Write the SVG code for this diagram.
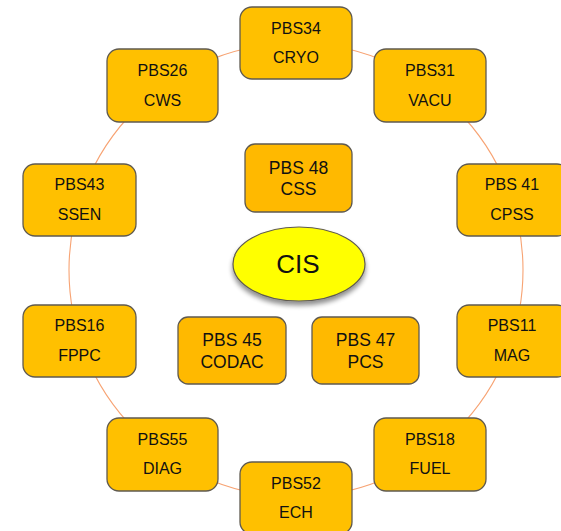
<svg xmlns="http://www.w3.org/2000/svg" width="561" height="531" viewBox="0 0 561 531">
<style>
.ob{fill:#FFC000;stroke:#5F5A50;stroke-width:1.3}
.ib{fill:#FFB900;stroke:#5F5A50;stroke-width:1.3}
.ot{font-family:"Liberation Sans",Arial,sans-serif;font-size:16px;fill:#111;text-anchor:middle}
.it{font-family:"Liberation Sans",Arial,sans-serif;font-size:17.5px;fill:#111;text-anchor:middle}
.ring{fill:none;stroke:#F7A373;stroke-width:1.1}
</style>
<defs>
<filter id="sh" x="-20%" y="-20%" width="140%" height="160%">
<feGaussianBlur in="SourceAlpha" stdDeviation="2.5"/>
<feOffset dx="0" dy="4" result="b"/>
<feComponentTransfer><feFuncA type="linear" slope="0.45"/></feComponentTransfer>
<feMerge><feMergeNode/><feMergeNode in="SourceGraphic"/></feMerge>
</filter>
</defs>
<rect width="561" height="531" fill="#fff"/>
<g id="connectors">
<circle class="ring" cx="296" cy="270" r="227"/>
</g>
<g id="cryo"><rect class="ob" x="240" y="7" width="112" height="72" rx="12"/><text class="ot" x="296" y="33.5">PBS34</text><text class="ot" x="296" y="62.5">CRYO</text></g>
<g id="cws"><rect class="ob" x="107" y="49" width="111" height="73" rx="12"/><text class="ot" x="162.5" y="76">PBS26</text><text class="ot" x="162.5" y="105.5">CWS</text></g>
<g id="vacu"><rect class="ob" x="374" y="49" width="112" height="73" rx="12"/><text class="ot" x="430" y="76">PBS31</text><text class="ot" x="430" y="105.5">VACU</text></g>
<g id="ssen"><rect class="ob" x="23" y="164" width="113" height="72" rx="12"/><text class="ot" x="79.5" y="190">PBS43</text><text class="ot" x="79.5" y="219.5">SSEN</text></g>
<g id="cpss"><rect class="ob" x="457" y="164" width="112" height="72" rx="12"/><text class="ot" x="512" y="190">PBS 41</text><text class="ot" x="512" y="219.5">CPSS</text></g>
<g id="fppc"><rect class="ob" x="23" y="305" width="113" height="72" rx="12"/><text class="ot" x="79.5" y="331">PBS16</text><text class="ot" x="79.5" y="360.5">FPPC</text></g>
<g id="mag"><rect class="ob" x="457" y="305" width="112" height="72" rx="12"/><text class="ot" x="512" y="331">PBS11</text><text class="ot" x="512" y="360.5">MAG</text></g>
<g id="diag"><rect class="ob" x="107" y="418" width="111" height="73" rx="12"/><text class="ot" x="162.5" y="444.5">PBS55</text><text class="ot" x="162.5" y="474">DIAG</text></g>
<g id="fuel"><rect class="ob" x="374" y="418" width="112" height="73" rx="12"/><text class="ot" x="430" y="444.5">PBS18</text><text class="ot" x="430" y="474">FUEL</text></g>
<g id="ech"><rect class="ob" x="240" y="462" width="112" height="72" rx="12"/><text class="ot" x="296" y="488.5">PBS52</text><text class="ot" x="296" y="518">ECH</text></g>
<g id="css"><rect class="ib" x="245" y="144" width="107" height="68" rx="10"/><text class="it" x="298.5" y="174">PBS 48</text><text class="it" x="298.5" y="195">CSS</text></g>
<g id="cis"><ellipse cx="299" cy="264" rx="66" ry="37" fill="#FFFF00" stroke="#5F5A50" stroke-width="1.2" filter="url(#sh)"/><text x="298" y="273" font-family="Liberation Sans,Arial,sans-serif" font-size="26" fill="#111" text-anchor="middle">CIS</text></g>
<g id="codac"><rect class="ib" x="178" y="317" width="108" height="67" rx="10"/><text class="it" x="232" y="346">PBS 45</text><text class="it" x="232" y="368">CODAC</text></g>
<g id="pcs"><rect class="ib" x="312" y="317" width="107" height="67" rx="10"/><text class="it" x="365.5" y="346">PBS 47</text><text class="it" x="365.5" y="368">PCS</text></g>
</svg>
